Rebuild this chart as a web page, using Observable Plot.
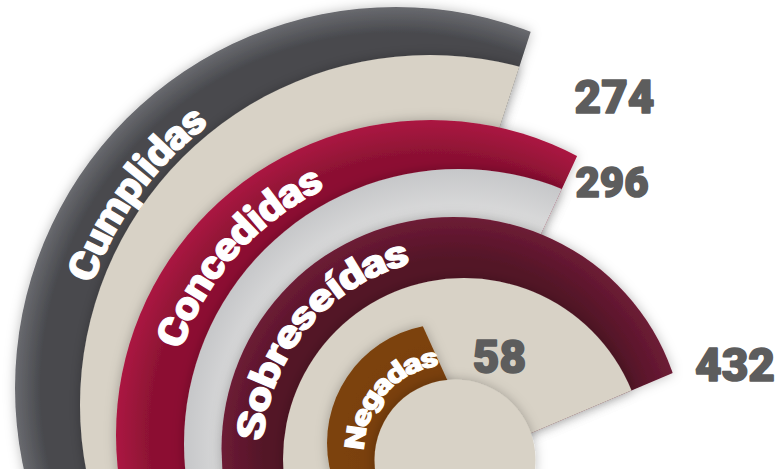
<!DOCTYPE html>
<html>
<head>
<meta charset="utf-8">
<script src="https://cdn.jsdelivr.net/npm/d3@7"></script>
<script src="https://cdn.jsdelivr.net/npm/@observablehq/plot@0.6"></script>
<style>
  html, body { margin: 0; padding: 0; background: #ffffff; overflow: hidden; }
  #chart { width: 778px; height: 469px; }
</style>
</head>
<body>
<div id="chart"></div>
<script>
// ---------------- data ----------------
const categories = ["Cumplidas", "Concedidas", "Sobreseídas", "Negadas"];
const values = [274, 296, 432, 58];
const valueLabels = ["274", "296", "432", "58"];

// angle scale stops: value -> end angle of each fan, degrees clockwise from 9 o'clock
const angleDomain = [0, 58, 274, 432];
const angleRange = [0, 65.6, 108, 157];

// ---------------- styles / layout ----------------
const ringCircles  = [[396, 388, 381], [431, 435, 315], [453.5, 449, 232], [446, 443, 119]]; // cx, cy, r
const trackCircles = [[430, 405, 350], [459, 444, 275], [464, 459, 181], [455, 460, 80.5]];
const trackClipped = [true, true, true, false];
const capPivots    = [[516, 77], [560, 193], [602, 403], [435, 353]];
const ringColors = [["#48494d", "#696a6f"], ["#8c1133", "#ab1742"], ["#521227", "#6d1c35"], ["#7a410e", "#7c430f"]];
const trackColors = [["#d8d2c6", "#d8d2c6"], ["#e0e0e0", "#c6c7c9"], ["#d8d2c6", "#d8d2c6"], ["#d8d2c6", "#d8d2c6"]];
const labelCircles = [[413, 396, 353], [445, 440, 292], [459, 454, 209], [450, 451, 95]];
const labelAngles = [36.2, 41.7, 39.75, 41.7];
const labelLengths = [208, 232, 262, 135];
const labelFontSizes = [40, 40, 38, 27];
const numberOffsets = [[98.5, 19.5], [52, -11], [133, -38.5], [64.5, 3.5]];
const numberFontSizes = [46, 42, 46, 46];
const numberColor = "#5d5d5d";
const fontFamily = "Roboto, 'Liberation Sans', sans-serif";

const data = categories.map((c, i) => ({category: c, value: values[i], label: valueLabels[i]}));

function renderFan(index, scales) {
  const rad = d => d * Math.PI / 180;
  const pt = (cx, cy, deg, r) => [cx - r * Math.cos(rad(deg)), cy - r * Math.sin(rad(deg))];
  const g = d3.create("svg:g");
  const defs = g.append("defs");
  const f = defs.append("filter").attr("id", "sh")
    .attr("x", "-50%").attr("y", "-50%").attr("width", "200%").attr("height", "200%");
  f.append("feDropShadow").attr("dx", 0).attr("dy", 0).attr("stdDeviation", 6)
    .attr("flood-color", "#000").attr("flood-opacity", 0.26);
  const arc = d3.arc();
  const shapes = g.append("g");
  const texts = g.append("g");

  const gradient = (id, [cx, cy, r], rIn, [cIn, cOut]) => {
    const grad = defs.append("radialGradient").attr("id", id)
      .attr("gradientUnits", "userSpaceOnUse").attr("cx", cx).attr("cy", cy).attr("r", r);
    grad.append("stop").attr("offset", Math.max(0, rIn / r)).attr("stop-color", cIn);
    grad.append("stop").attr("offset", 1).attr("stop-color", cOut);
    return `url(#${id})`;
  };
  const disk = (circle, fill, clip) => {
    const [cx, cy, r] = circle;
    const c = shapes.append("g").attr("filter", "url(#sh)")
      .append("circle").attr("cx", cx).attr("cy", cy).attr("r", r).attr("fill", fill);
    if (clip) c.attr("clip-path", `url(#${clip})`);
  };

  for (const i of index) {
    const d = data[i];
    const endDeg = scales.x(d.value);
    const [px, py] = capPivots[i];
    const cid = "cap" + i;
    defs.append("clipPath").attr("id", cid).append("path")
      .attr("transform", `translate(${px},${py})`)
      .attr("d", arc({innerRadius: 0, outerRadius: 3000,
        startAngle: rad(endDeg - 270), endAngle: rad(endDeg - 90)}));
    const ring = ringCircles[i], track = trackCircles[i];
    const ringInner = ring[2] - 0.85 * (ring[2] - track[2]);
    disk(ring, gradient("rg" + i, ring, ringInner, ringColors[i]), cid);
    disk(track, gradient("tg" + i, track, track[2] * 0.8, trackColors[i]), trackClipped[i] ? cid : null);

    // curved category label
    const [lcx, lcy, lr] = labelCircles[i];
    const a = labelAngles[i];
    const [sx, sy] = pt(lcx, lcy, a - 80, lr);
    const [ex, ey] = pt(lcx, lcy, a + 80, lr);
    const pid = "lp" + i;
    defs.append("path").attr("id", pid).attr("d", `M${sx},${sy}A${lr},${lr} 0 0 1 ${ex},${ey}`);
    texts.append("text")
      .attr("fill", "#ffffff").attr("stroke", "#ffffff").attr("stroke-width", 1)
      .attr("font-family", fontFamily).attr("font-weight", 900)
      .attr("font-size", labelFontSizes[i]).attr("dy", "0.34em")
      .append("textPath").attr("href", "#" + pid).attr("startOffset", "50%")
      .attr("text-anchor", "middle")
      .attr("textLength", labelLengths[i]).attr("lengthAdjust", "spacingAndGlyphs")
      .text(d.category);

    // value label next to the end of the fan
    texts.append("text")
      .attr("x", px + numberOffsets[i][0]).attr("y", py + numberOffsets[i][1]).attr("dy", "0.36em")
      .attr("text-anchor", "middle").attr("fill", numberColor)
      .attr("stroke", numberColor).attr("stroke-width", 1.6).attr("stroke-linejoin", "round")
      .attr("font-family", fontFamily).attr("font-weight", 900).attr("font-size", numberFontSizes[i])
      .text(d.label);
  }
  return g.node();
}

const chart = Plot.plot({
  width: 778,
  height: 469,
  margin: 0,
  style: {background: "#ffffff", overflow: "hidden"},
  x: {type: "linear", domain: angleDomain, range: angleRange, axis: null},
  y: {domain: categories, axis: null},
  marks: [
    Plot.barX(data, {x: "value", y: "category", render: renderFan})
  ]
});
document.getElementById("chart").appendChild(chart);
</script>
</body>
</html>
